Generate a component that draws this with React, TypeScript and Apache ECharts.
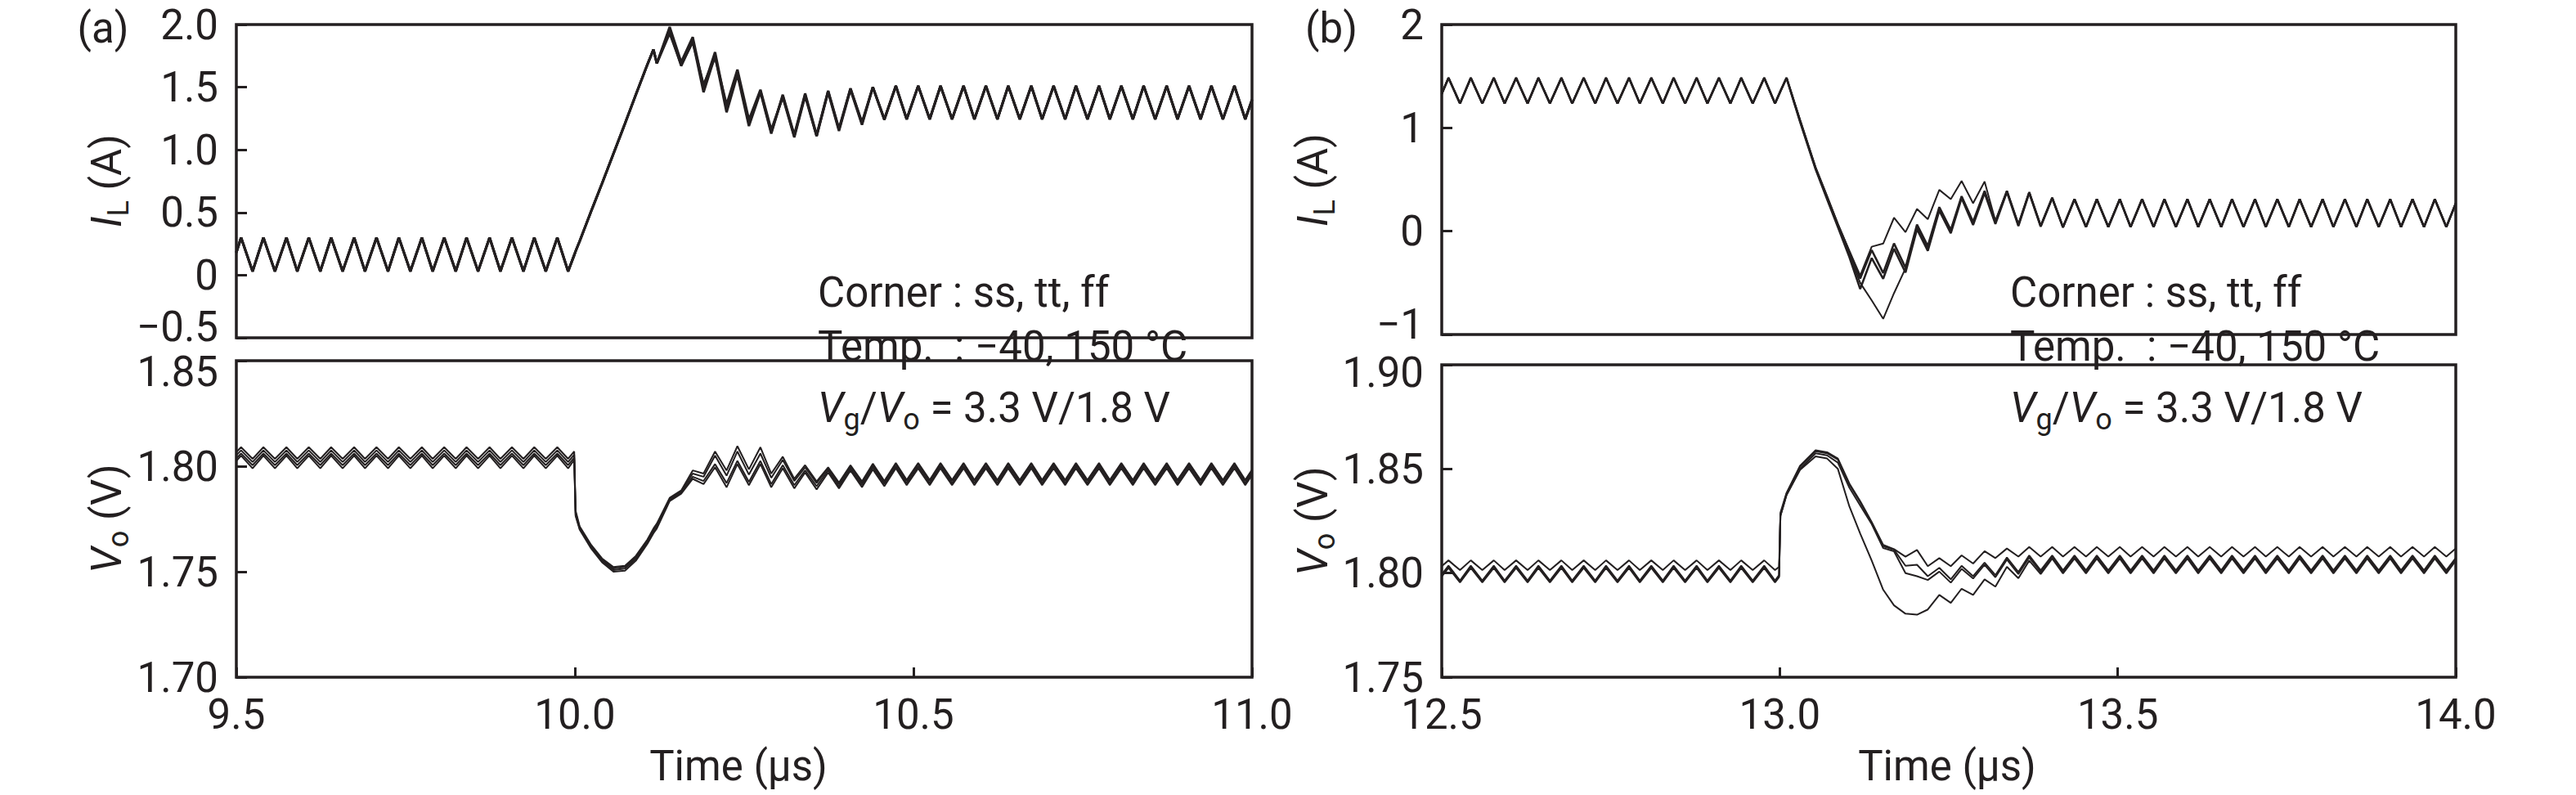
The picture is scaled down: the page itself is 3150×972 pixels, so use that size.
import React, { useEffect, useRef } from 'react';
import * as echarts from 'echarts';

const FONT = 'Roboto, "Open Sans", sans-serif';
const INK = '#231f20';

// ---------------- Panel (a): 9.5 – 11.0 µs ----------------
const tA = [
  9.500,
  9.507, 9.524, 9.540, 9.557, 9.574, 9.590, 9.607, 9.624, 9.640, 9.657,
  9.674, 9.690, 9.707, 9.724, 9.740, 9.757, 9.774, 9.790, 9.807, 9.824,
  9.840, 9.857, 9.874, 9.890, 9.907, 9.924, 9.940, 9.957, 9.974, 9.990,
  9.999, 10.001,
  10.007, 10.024, 10.040, 10.057, 10.074, 10.090, 10.107, 10.116, 10.121,
  10.140, 10.157, 10.174, 10.190, 10.207, 10.224, 10.240, 10.257, 10.274, 10.290,
  10.307, 10.324, 10.340, 10.357, 10.374, 10.390, 10.407, 10.424, 10.440, 10.457,
  10.474, 10.490,
  10.507, 10.524, 10.540, 10.557, 10.574, 10.590, 10.607, 10.624, 10.640, 10.657,
  10.674, 10.690, 10.707, 10.724, 10.740, 10.757, 10.774, 10.790, 10.807, 10.824,
  10.840, 10.857, 10.874, 10.890, 10.907, 10.924, 10.940, 10.957, 10.974, 10.990,
  11.000,
];

const ilA_pre = [
  0.18,
  0.30, 0.03, 0.30, 0.03, 0.30, 0.03, 0.30, 0.03, 0.30, 0.03,
  0.30, 0.03, 0.30, 0.03, 0.30, 0.03, 0.30, 0.03, 0.30, 0.03,
  0.30, 0.03, 0.30, 0.03, 0.30, 0.03, 0.30, 0.03, 0.30, 0.03,
  0.16, 0.19,
];
const ilA_ramp = [0.27, 0.51, 0.73, 0.97, 1.21, 1.44, 1.68, 1.80, 1.69];
const ilA_ring1 = [1.98, 1.70, 1.90, 1.50, 1.78, 1.33, 1.62, 1.21, 1.47, 1.14, 1.43, 1.11, 1.44, 1.11, 1.47, 1.16, 1.49, 1.21, 1.50, 1.245, 1.51, 1.245];
const ilA_ring2 = [1.95, 1.67, 1.87, 1.46, 1.75, 1.30, 1.60, 1.19, 1.46, 1.13, 1.44, 1.12, 1.45, 1.12, 1.47, 1.17, 1.49, 1.22, 1.50, 1.245, 1.51, 1.245];
const ilA_ring3 = [1.93, 1.68, 1.86, 1.52, 1.74, 1.36, 1.64, 1.24, 1.48, 1.16, 1.42, 1.10, 1.43, 1.11, 1.46, 1.15, 1.48, 1.20, 1.50, 1.24, 1.51, 1.245];
const ilA_post = [
  1.51, 1.245, 1.51, 1.245, 1.51, 1.245, 1.51, 1.245, 1.51, 1.245,
  1.51, 1.245, 1.51, 1.245, 1.51, 1.245, 1.51, 1.245, 1.51, 1.245,
  1.51, 1.245, 1.51, 1.245, 1.51, 1.245, 1.51, 1.245, 1.51, 1.245,
  1.40,
];

const voA1_pre = [
  1.8067,
  1.809, 1.8035, 1.809, 1.8035, 1.809, 1.8035, 1.809, 1.8035, 1.809, 1.8035,
  1.809, 1.8035, 1.809, 1.8035, 1.809, 1.8035, 1.809, 1.8035, 1.809, 1.8035,
  1.809, 1.8035, 1.809, 1.8035, 1.809, 1.8035, 1.809, 1.8035, 1.809, 1.8035,
  1.807, 1.779,
];
const voA2_pre = [
  1.8052,
  1.8075, 1.802, 1.8075, 1.802, 1.8075, 1.802, 1.8075, 1.802, 1.8075, 1.802,
  1.8075, 1.802, 1.8075, 1.802, 1.8075, 1.802, 1.8075, 1.802, 1.8075, 1.802,
  1.8075, 1.802, 1.8075, 1.802, 1.8075, 1.802, 1.8075, 1.802, 1.8075, 1.802,
  1.8055, 1.778,
];
const voA3_pre = [
  1.8037,
  1.806, 1.8005, 1.806, 1.8005, 1.806, 1.8005, 1.806, 1.8005, 1.806, 1.8005,
  1.806, 1.8005, 1.806, 1.8005, 1.806, 1.8005, 1.806, 1.8005, 1.806, 1.8005,
  1.806, 1.8005, 1.806, 1.8005, 1.806, 1.8005, 1.806, 1.8005, 1.806, 1.8005,
  1.804, 1.777,
];
const voA4_pre = [
  1.8025,
  1.805, 1.799, 1.805, 1.799, 1.805, 1.799, 1.805, 1.799, 1.805, 1.799,
  1.805, 1.799, 1.805, 1.799, 1.805, 1.799, 1.805, 1.799, 1.805, 1.799,
  1.805, 1.799, 1.805, 1.799, 1.805, 1.799, 1.805, 1.799, 1.805, 1.799,
  1.803, 1.7765,
];
const voA1_dip = [1.7715, 1.7627, 1.7563, 1.7522, 1.7528, 1.7575, 1.7652, 1.7705, 1.7728];
const voA2_dip = [1.771, 1.7622, 1.7558, 1.7515, 1.7522, 1.7568, 1.7645, 1.7697, 1.772];
const voA3_dip = [1.7705, 1.7617, 1.7552, 1.7508, 1.7515, 1.756, 1.764, 1.769, 1.7713];
const voA4_dip = [1.770, 1.761, 1.7545, 1.750, 1.7505, 1.7552, 1.7632, 1.7682, 1.7705];
const voA1_ring = [1.785, 1.7885, 1.798, 1.7965, 1.807, 1.798, 1.8095, 1.7985, 1.809, 1.7965, 1.8045, 1.794, 1.8005, 1.7928, 1.7995, 1.7922, 1.8005, 1.7928, 1.8012, 1.793, 1.8015, 1.7935];
const voA2_ring = [1.7845, 1.788, 1.7965, 1.795, 1.805, 1.7955, 1.807, 1.796, 1.806, 1.7945, 1.803, 1.793, 1.7995, 1.792, 1.799, 1.7915, 1.800, 1.792, 1.8005, 1.7925, 1.801, 1.793];
const voA3_ring = [1.784, 1.7875, 1.795, 1.793, 1.801, 1.792, 1.8025, 1.7925, 1.8025, 1.7915, 1.8005, 1.791, 1.798, 1.7905, 1.798, 1.7905, 1.799, 1.791, 1.7995, 1.7915, 1.800, 1.792];
const voA4_ring = [1.7835, 1.787, 1.794, 1.7915, 1.7995, 1.790, 1.801, 1.791, 1.801, 1.790, 1.799, 1.7895, 1.797, 1.789, 1.797, 1.7895, 1.798, 1.790, 1.7985, 1.7905, 1.799, 1.791];
const voA1_post = [
  1.8015, 1.7935, 1.8015, 1.7935, 1.8015, 1.7935, 1.8015, 1.7935, 1.8015, 1.7935,
  1.8015, 1.7935, 1.8015, 1.7935, 1.8015, 1.7935, 1.8015, 1.7935, 1.8015, 1.7935,
  1.8015, 1.7935, 1.8015, 1.7935, 1.8015, 1.7935, 1.8015, 1.7935, 1.8015, 1.7935,
  1.7983,
];
const voA2_post = [
  1.801, 1.793, 1.801, 1.793, 1.801, 1.793, 1.801, 1.793, 1.801, 1.793,
  1.801, 1.793, 1.801, 1.793, 1.801, 1.793, 1.801, 1.793, 1.801, 1.793,
  1.801, 1.793, 1.801, 1.793, 1.801, 1.793, 1.801, 1.793, 1.801, 1.793,
  1.7978,
];
const voA3_post = [
  1.800, 1.792, 1.800, 1.792, 1.800, 1.792, 1.800, 1.792, 1.800, 1.792,
  1.800, 1.792, 1.800, 1.792, 1.800, 1.792, 1.800, 1.792, 1.800, 1.792,
  1.800, 1.792, 1.800, 1.792, 1.800, 1.792, 1.800, 1.792, 1.800, 1.792,
  1.7968,
];
const voA4_post = [
  1.799, 1.791, 1.799, 1.791, 1.799, 1.791, 1.799, 1.791, 1.799, 1.791,
  1.799, 1.791, 1.799, 1.791, 1.799, 1.791, 1.799, 1.791, 1.799, 1.791,
  1.799, 1.791, 1.799, 1.791, 1.799, 1.791, 1.799, 1.791, 1.799, 1.791,
  1.7958,
];

// ---------------- Panel (b): 12.5 – 14.0 µs ----------------
const tB = [
  12.500,
  12.510, 12.527, 12.543, 12.560, 12.577, 12.593, 12.610, 12.627, 12.643, 12.660,
  12.677, 12.693, 12.710, 12.727, 12.743, 12.760, 12.777, 12.793, 12.810, 12.827,
  12.843, 12.860, 12.877, 12.893, 12.910, 12.927, 12.943, 12.960, 12.977, 12.993,
  12.999, 13.001, 13.010,
  13.030, 13.053, 13.070, 13.086, 13.103, 13.119,
  13.136, 13.153, 13.169, 13.186, 13.203, 13.219, 13.236, 13.253, 13.269, 13.286,
  13.303, 13.319, 13.336, 13.353, 13.369, 13.386, 13.403, 13.419,
  13.436, 13.453, 13.469, 13.486, 13.503, 13.519, 13.536, 13.553, 13.569, 13.586,
  13.603, 13.619, 13.636, 13.653, 13.669, 13.686, 13.703, 13.719, 13.736, 13.753,
  13.769, 13.786, 13.803, 13.819, 13.836, 13.853, 13.869, 13.886, 13.903, 13.919,
  13.936, 13.953, 13.969, 13.986,
  14.000,
];

const ilB_pre = [
  1.33,
  1.484, 1.236, 1.484, 1.236, 1.484, 1.236, 1.484, 1.236, 1.484, 1.236,
  1.484, 1.236, 1.484, 1.236, 1.484, 1.236, 1.484, 1.236, 1.484, 1.236,
  1.484, 1.236, 1.484, 1.236, 1.484, 1.236, 1.484, 1.236, 1.484, 1.236,
  1.325, 1.355, 1.484,
];
const ilB1_fall = [1.07, 0.61, 0.33, 0.064, -0.20, -0.457];
const ilB2_fall = [1.06, 0.60, 0.31, 0.04, -0.25, -0.56];
const ilB3_fall = [1.07, 0.61, 0.32, 0.05, -0.23, -0.50];
const ilB4_fall = [1.08, 0.62, 0.34, 0.07, -0.19, -0.43];
const ilB1_ring = [-0.183, -0.405, -0.118, -0.353, 0.064, -0.144, 0.233, 0.012, 0.338, 0.09, 0.39, 0.09, 0.39, 0.064, 0.377, 0.051, 0.324, 0.038];
const ilB2_ring = [-0.26, -0.46, -0.17, -0.40, 0.02, -0.19, 0.20, -0.02, 0.32, 0.06, 0.37, 0.07, 0.38, 0.05, 0.37, 0.045, 0.32, 0.038];
const ilB3_ring = [-0.67, -0.848, -0.60, -0.36, 0.04, -0.16, 0.22, 0.00, 0.33, 0.08, 0.38, 0.085, 0.385, 0.06, 0.375, 0.05, 0.32, 0.038];
const ilB4_ring = [-0.15, -0.12, 0.13, -0.01, 0.215, 0.116, 0.40, 0.31, 0.486, 0.27, 0.48, 0.10, 0.39, 0.064, 0.377, 0.051, 0.324, 0.038];
const ilB_post = [
  0.31, 0.04, 0.31, 0.04, 0.31, 0.04, 0.31, 0.04, 0.31, 0.04,
  0.31, 0.04, 0.31, 0.04, 0.31, 0.04, 0.31, 0.04, 0.31, 0.04,
  0.31, 0.04, 0.31, 0.04, 0.31, 0.04, 0.31, 0.04, 0.31, 0.04,
  0.31, 0.04, 0.31, 0.04,
  0.27,
];

const voB1_pre = [
  1.7993,
  1.8036, 1.7964, 1.8036, 1.7964, 1.8036, 1.7964, 1.8036, 1.7964, 1.8036, 1.7964,
  1.8036, 1.7964, 1.8036, 1.7964, 1.8036, 1.7964, 1.8036, 1.7964, 1.8036, 1.7964,
  1.8036, 1.7964, 1.8036, 1.7964, 1.8036, 1.7964, 1.8036, 1.7964, 1.8036, 1.7964,
  1.799, 1.828, 1.838,
];
const voB2_pre = [
  1.7983,
  1.8025, 1.7955, 1.8025, 1.7955, 1.8025, 1.7955, 1.8025, 1.7955, 1.8025, 1.7955,
  1.8025, 1.7955, 1.8025, 1.7955, 1.8025, 1.7955, 1.8025, 1.7955, 1.8025, 1.7955,
  1.8025, 1.7955, 1.8025, 1.7955, 1.8025, 1.7955, 1.8025, 1.7955, 1.8025, 1.7955,
  1.798, 1.8275, 1.8375,
];
const voB3_pre = [
  1.8033,
  1.8061, 1.8014, 1.8061, 1.8014, 1.8061, 1.8014, 1.8061, 1.8014, 1.8061, 1.8014,
  1.8061, 1.8014, 1.8061, 1.8014, 1.8061, 1.8014, 1.8061, 1.8014, 1.8061, 1.8014,
  1.8061, 1.8014, 1.8061, 1.8014, 1.8061, 1.8014, 1.8061, 1.8014, 1.8061, 1.8014,
  1.803, 1.829, 1.8385,
];
const voB4_pre = [
  1.7988,
  1.803, 1.796, 1.803, 1.796, 1.803, 1.796, 1.803, 1.796, 1.803, 1.796,
  1.803, 1.796, 1.803, 1.796, 1.803, 1.796, 1.803, 1.796, 1.803, 1.796,
  1.803, 1.796, 1.803, 1.796, 1.803, 1.796, 1.803, 1.796, 1.803, 1.796,
  1.7985, 1.8275, 1.8375,
];
const voB1_fall = [1.851, 1.8585, 1.8575, 1.8545, 1.8425, 1.834];
const voB2_fall = [1.850, 1.8575, 1.8565, 1.853, 1.841, 1.8325];
const voB3_fall = [1.8515, 1.859, 1.858, 1.855, 1.843, 1.8345];
const voB4_fall = [1.8495, 1.856, 1.855, 1.850, 1.832, 1.819];
const voB1_ring = [1.824, 1.8128, 1.8112, 1.8035, 1.804, 1.7985, 1.8025, 1.797, 1.8035, 1.7985, 1.805, 1.799, 1.8075, 1.8005, 1.8085, 1.8013, 1.8085, 1.8013];
const voB2_ring = [1.8235, 1.812, 1.8105, 1.800, 1.7985, 1.7967, 1.8007, 1.7954, 1.802, 1.7974, 1.804, 1.798, 1.8065, 1.7995, 1.8075, 1.8005, 1.8075, 1.8005];
const voB3_ring = [1.8245, 1.8135, 1.8115, 1.8079, 1.8111, 1.8033, 1.8072, 1.8033, 1.8085, 1.8046, 1.8105, 1.8072, 1.8118, 1.8079, 1.8125, 1.8079, 1.8125, 1.8079];
const voB4_ring = [1.806, 1.792, 1.7845, 1.7805, 1.780, 1.7825, 1.7895, 1.7857, 1.7925, 1.7895, 1.797, 1.7935, 1.803, 1.7975, 1.806, 1.7995, 1.807, 1.7998];
const voB1_post = [
  1.8085, 1.8013, 1.8085, 1.8013, 1.8085, 1.8013, 1.8085, 1.8013, 1.8085, 1.8013,
  1.8085, 1.8013, 1.8085, 1.8013, 1.8085, 1.8013, 1.8085, 1.8013, 1.8085, 1.8013,
  1.8085, 1.8013, 1.8085, 1.8013, 1.8085, 1.8013, 1.8085, 1.8013, 1.8085, 1.8013,
  1.8085, 1.8013, 1.8085, 1.8013,
  1.8073,
];
const voB2_post = [
  1.8075, 1.8005, 1.8075, 1.8005, 1.8075, 1.8005, 1.8075, 1.8005, 1.8075, 1.8005,
  1.8075, 1.8005, 1.8075, 1.8005, 1.8075, 1.8005, 1.8075, 1.8005, 1.8075, 1.8005,
  1.8075, 1.8005, 1.8075, 1.8005, 1.8075, 1.8005, 1.8075, 1.8005, 1.8075, 1.8005,
  1.8075, 1.8005, 1.8075, 1.8005,
  1.8064,
];
const voB3_post = [
  1.8125, 1.8079, 1.8125, 1.8079, 1.8125, 1.8079, 1.8125, 1.8079, 1.8125, 1.8079,
  1.8125, 1.8079, 1.8125, 1.8079, 1.8125, 1.8079, 1.8125, 1.8079, 1.8125, 1.8079,
  1.8125, 1.8079, 1.8125, 1.8079, 1.8125, 1.8079, 1.8125, 1.8079, 1.8125, 1.8079,
  1.8125, 1.8079, 1.8125, 1.8079,
  1.8118,
];
const voB4_post = [
  1.807, 1.7998, 1.807, 1.7998, 1.807, 1.7998, 1.807, 1.7998, 1.807, 1.7998,
  1.807, 1.7998, 1.807, 1.7998, 1.807, 1.7998, 1.807, 1.7998, 1.807, 1.7998,
  1.807, 1.7998, 1.807, 1.7998, 1.807, 1.7998, 1.807, 1.7998, 1.807, 1.7998,
  1.807, 1.7998, 1.807, 1.7998,
  1.806,
];

// ---------------- text helpers ----------------
let measureCtx: CanvasRenderingContext2D | null = null;
function textWidth(txt: string, size: number, italic: boolean) {
  if (!measureCtx) measureCtx = document.createElement('canvas').getContext('2d');
  if (!measureCtx) return txt.length * size * 0.5;
  measureCtx.font = `${italic ? 'italic ' : ''}${size}px ${FONT}`;
  return measureCtx.measureText(txt).width;
}

type Piece = { t: string; s: number; it?: boolean; dy?: number };

function runPieces(pieces: Piece[], x0: number, y: number) {
  let x = x0;
  const out: any[] = [];
  for (const p of pieces) {
    out.push({
      type: 'text',
      x,
      y: y + (p.dy || 0),
      silent: true,
      style: {
        text: p.t,
        fontSize: p.s,
        fontFamily: FONT,
        fontStyle: p.it ? 'italic' : 'normal',
        fill: INK,
        align: 'left',
        verticalAlign: 'middle',
      },
    });
    x += textWidth(p.t, p.s, !!p.it);
  }
  return out;
}

function vTitle(pieces: Piece[], cx: number, cy: number) {
  const w = pieces.reduce((a, p) => a + textWidth(p.t, p.s, !!p.it), 0);
  return { type: 'group', x: cx, y: cy, rotation: Math.PI / 2, children: runPieces(pieces, -w / 2, 0) };
}

const FS = 51;
const SUB = 36;

function buildOption() {
  const join = (...parts: number[][]) => parts.reduce((a, b) => a.concat(b), [] as number[]);
  const pairs = (t: number[], v: number[]) => t.map((x, i) => [x, v[i]]);

  const grids = [
    { left: 289, top: 30, width: 1242, height: 383 },
    { left: 289, top: 441, width: 1242, height: 387 },
    { left: 1763, top: 30, width: 1240, height: 379 },
    { left: 1763, top: 446, width: 1240, height: 382 },
  ].map((g) => ({ ...g, show: true, borderColor: INK, borderWidth: 3.5, backgroundColor: 'transparent', containLabel: false }));

  const xa = (gi: number, min: number, max: number, bottom: boolean) => ({
    gridIndex: gi, type: 'value', min, max, interval: 0.5,
    axisLine: { show: false },
    axisTick: { show: bottom, inside: true, length: 12, lineStyle: { color: INK, width: 3 } },
    axisLabel: { show: bottom, margin: 20, fontSize: FS, fontFamily: FONT, color: INK, showMinLabel: true, showMaxLabel: true, formatter: (v: number) => v.toFixed(1) },
    splitLine: { show: false },
  });
  const signed = (v: number, d: number) => (Math.abs(v) < 1e-9 ? '0' : (v < 0 ? '\u2212' : '') + Math.abs(v).toFixed(d));
  const tok = { fontSize: FS, fontFamily: FONT, color: INK };
  // shiftLo: push the lowest label up; shiftHi: push the highest label down (as in the reference)
  const ya = (gi: number, min: number, max: number, interval: number, fmt: (v: number) => string, shiftLo: number, shiftHi: number) => ({
    gridIndex: gi, type: 'value', min, max, interval,
    axisLine: { show: false },
    axisTick: { show: true, inside: true, length: 13, lineStyle: { color: INK, width: 3 } },
    axisLabel: {
      margin: 22, fontSize: FS, fontFamily: FONT, color: INK, showMinLabel: true, showMaxLabel: true,
      formatter: (v: number) => {
        const s = fmt(v);
        if (Math.abs(v - min) < 1e-6 && shiftLo) return `{lo|${s}}`;
        if (Math.abs(v - max) < 1e-6 && shiftHi) return `{hi|${s}}`;
        return s;
      },
      rich: {
        lo: { ...tok, padding: [0, 0, shiftLo * 2, 0] },
        hi: { ...tok, padding: [shiftHi * 2, 0, 0, 0] },
      },
    },
    splitLine: { show: false },
  });

  const line = (gi: number, data: number[][], w: number) => ({
    type: 'line', xAxisIndex: gi, yAxisIndex: gi, data, showSymbol: false, symbol: 'none',
    lineStyle: { color: INK, width: w }, silent: true, clip: true, z: 3,
  });

  const series = [
    line(0, pairs(tA, join(ilA_pre, ilA_ramp, ilA_ring1, ilA_post)), 3),
    line(0, pairs(tA, join(ilA_pre, ilA_ramp, ilA_ring2, ilA_post)), 3),
    line(0, pairs(tA, join(ilA_pre, ilA_ramp, ilA_ring3, ilA_post)), 3),
    line(1, pairs(tA, join(voA1_pre, voA1_dip, voA1_ring, voA1_post)), 2),
    line(1, pairs(tA, join(voA2_pre, voA2_dip, voA2_ring, voA2_post)), 2),
    line(1, pairs(tA, join(voA3_pre, voA3_dip, voA3_ring, voA3_post)), 2),
    line(1, pairs(tA, join(voA4_pre, voA4_dip, voA4_ring, voA4_post)), 2),
    line(2, pairs(tB, join(ilB_pre, ilB1_fall, ilB1_ring, ilB_post)), 2.6),
    line(2, pairs(tB, join(ilB_pre, ilB2_fall, ilB2_ring, ilB_post)), 2.6),
    line(2, pairs(tB, join(ilB_pre, ilB3_fall, ilB3_ring, ilB_post)), 2),
    line(2, pairs(tB, join(ilB_pre, ilB4_fall, ilB4_ring, ilB_post)), 2),
    line(3, pairs(tB, join(voB1_pre, voB1_fall, voB1_ring, voB1_post)), 2),
    line(3, pairs(tB, join(voB2_pre, voB2_fall, voB2_ring, voB2_post)), 2),
    line(3, pairs(tB, join(voB3_pre, voB3_fall, voB3_ring, voB3_post)), 2),
    line(3, pairs(tB, join(voB4_pre, voB4_fall, voB4_ring, voB4_post)), 2),
  ];

  const plain = (text: string, x: number, y: number, align = 'center') => ({
    type: 'text', x, y, silent: true,
    style: { text, fontSize: FS, fontFamily: FONT, fill: INK, align, verticalAlign: 'middle' },
  });

  const ilTitle: Piece[] = [{ t: 'I', s: FS, it: true }, { t: 'L', s: SUB, dy: 15 }, { t: '\u00a0(A)', s: FS }];
  const voTitle: Piece[] = [{ t: 'V', s: FS, it: true }, { t: 'o', s: SUB, dy: 15 }, { t: '\u00a0(V)', s: FS }];
  const ratio: Piece[] = [
    { t: 'V', s: FS, it: true }, { t: 'g', s: SUB, dy: 15 }, { t: '/', s: FS },
    { t: 'V', s: FS, it: true }, { t: 'o', s: SUB, dy: 15 }, { t: '\u00a0= 3.3 V/1.8 V', s: FS },
  ];

  const annot = (x: number) => [
    plain('Corner : ss, tt, ff', x, 357, 'left'),
    plain('Temp.\u00a0 : \u221240, 150 \u00b0C', x, 423, 'left'),
    ...runPieces(ratio, x, 498),
  ];

  const graphic = [
    plain('(a)', 126, 34),
    plain('(b)', 1628, 34),
    vTitle(ilTitle, 130, 221),
    vTitle(voTitle, 130, 634),
    vTitle(ilTitle, 1605, 220),
    vTitle(voTitle, 1605, 637),
    plain('Time (\u03bcs)', 903, 936),
    plain('Time (\u03bcs)', 2381, 936),
    ...annot(1000),
    ...annot(2458),
  ];

  return {
    animation: false,
    backgroundColor: '#ffffff',
    textStyle: { fontFamily: FONT, color: INK },
    grid: grids,
    xAxis: [xa(0, 9.5, 11.0, false), xa(1, 9.5, 11.0, true), xa(2, 12.5, 14.0, false), xa(3, 12.5, 14.0, true)],
    yAxis: [
      ya(0, -0.5, 2.0, 0.5, (v) => signed(v, 1), 14, 0),
      ya(1, 1.7, 1.85, 0.05, (v) => v.toFixed(2), 0, 13),
      ya(2, -1, 2, 1, (v) => signed(v, 0), 13, 0),
      ya(3, 1.75, 1.9, 0.05, (v) => v.toFixed(2), 0, 9),
    ],
    series,
    graphic,
  };
}

export default function App() {
  const ref = useRef<HTMLDivElement>(null);
  useEffect(() => {
    if (!ref.current) return;
    const chart = echarts.init(ref.current, undefined, { renderer: 'svg' });
    chart.setOption(buildOption() as any);
    return () => chart.dispose();
  }, []);
  return (
    <div
      ref={ref}
      style={{ position: 'fixed', left: 0, top: 0, width: 3150, height: 972, background: '#fff' }}
    />
  );
}
